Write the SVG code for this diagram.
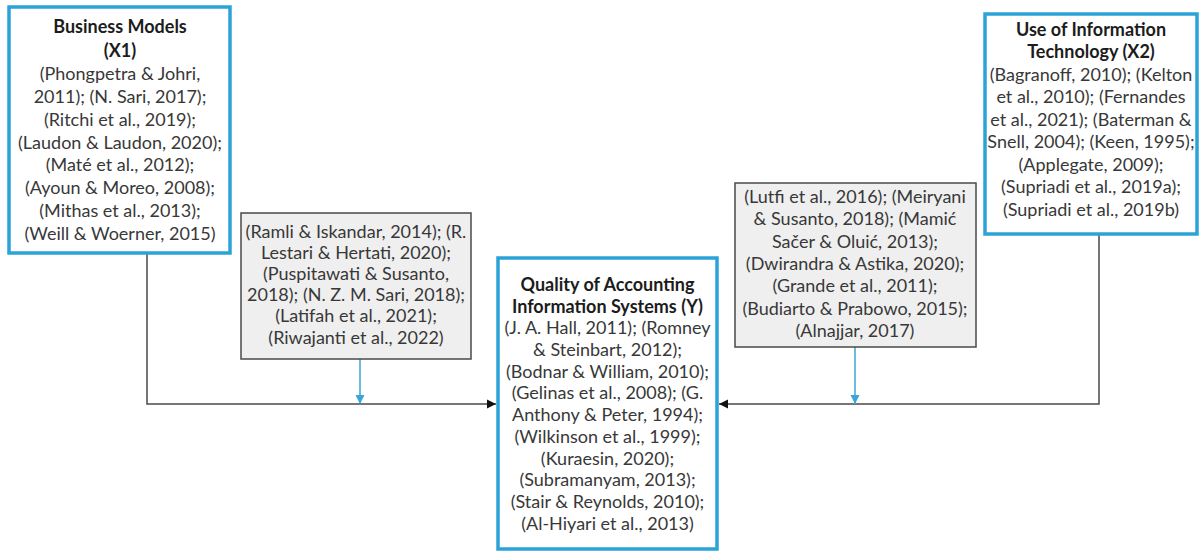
<svg xmlns="http://www.w3.org/2000/svg" width="1199" height="551" viewBox="0 0 1199 551">
<style>
.main{fill:#ffffff;stroke:#2ba3d6;stroke-width:3.5}
.ref{fill:#efefef;stroke:#4a4a4a;stroke-width:1.5}
text{font-family:Lato,"Open Sans","Liberation Sans",sans-serif;font-size:18px;fill:#383838;text-anchor:middle}
.t{font-weight:bold;fill:#1c1c1c}
.conn{fill:none;stroke:#4a4a4a;stroke-width:1.5}
.blue{fill:none;stroke:#39a6d6;stroke-width:1.5}
</style>
<defs>
<marker id="ah" markerWidth="10" markerHeight="10" refX="9" refY="5" orient="auto" markerUnits="userSpaceOnUse"><path d="M0,0.5 L9,5 L0,9.5 Z" fill="#111"/></marker>
<marker id="ab" markerWidth="10" markerHeight="10" refX="9" refY="5" orient="auto" markerUnits="userSpaceOnUse"><path d="M0,0.5 L9,5 L0,9.5 Z" fill="#39a6d6"/></marker>
</defs>
<g id="connectors">
<path class="conn" d="M147,253 V404 H496" marker-end="url(#ah)"/>
<path class="conn" d="M1099,234 V404 H719" marker-end="url(#ah)"/>
<path class="blue" d="M360,359 V404" marker-end="url(#ab)"/>
<path class="blue" d="M855,347 V404" marker-end="url(#ab)"/>
</g>
<g id="x1">
<rect class="main" x="9" y="7" width="221" height="246"/>
<text class="t" x="120" y="33">Business Models</text>
<text class="t" x="120" y="57">(X1)</text>
<text x="120" y="80">(Phongpetra &amp; Johri,</text>
<text x="120" y="103">2011); (N. Sari, 2017);</text>
<text x="120" y="126">(Ritchi et al., 2019);</text>
<text x="120" y="149">(Laudon &amp; Laudon, 2020);</text>
<text x="120" y="171">(Maté et al., 2012);</text>
<text x="120" y="194">(Ayoun &amp; Moreo, 2008);</text>
<text x="120" y="217">(Mithas et al., 2013);</text>
<text x="120" y="240">(Weill &amp; Woerner, 2015)</text>
</g>
<g id="ref1">
<rect class="ref" x="241" y="213" width="230" height="146"/>
<text x="356" y="238">(Ramli &amp; Iskandar, 2014); (R.</text>
<text x="356" y="259">Lestari &amp; Hertati, 2020);</text>
<text x="356" y="280">(Puspitawati &amp; Susanto,</text>
<text x="356" y="301">2018); (N. Z. M. Sari, 2018);</text>
<text x="356" y="322">(Latifah et al., 2021);</text>
<text x="356" y="344">(Riwajanti et al., 2022)</text>
</g>
<g id="y">
<rect class="main" x="498" y="258" width="219" height="291"/>
<text class="t" x="607.5" y="291">Quality of Accounting</text>
<text class="t" x="607.5" y="313">Information Systems (Y)</text>
<text x="607.5" y="334">(J. A. Hall, 2011); (Romney</text>
<text x="607.5" y="356">&amp; Steinbart, 2012);</text>
<text x="607.5" y="378">(Bodnar &amp; William, 2010);</text>
<text x="607.5" y="399">(Gelinas et al., 2008); (G.</text>
<text x="607.5" y="421">Anthony &amp; Peter, 1994);</text>
<text x="607.5" y="443">(Wilkinson et al., 1999);</text>
<text x="607.5" y="465">(Kuraesin, 2020);</text>
<text x="607.5" y="486">(Subramanyam, 2013);</text>
<text x="607.5" y="508">(Stair &amp; Reynolds, 2010);</text>
<text x="607.5" y="530">(Al-Hiyari et al., 2013)</text>
</g>
<g id="ref2">
<rect class="ref" x="735" y="183" width="241" height="164"/>
<text x="855" y="203">(Lutfi et al., 2016); (Meiryani</text>
<text x="855" y="225">&amp; Susanto, 2018); (Mamić</text>
<text x="855" y="248">Sačer &amp; Oluić, 2013);</text>
<text x="855" y="270">(Dwirandra &amp; Astika, 2020);</text>
<text x="855" y="292">(Grande et al., 2011);</text>
<text x="855" y="315">(Budiarto &amp; Prabowo, 2015);</text>
<text x="855" y="337">(Alnajjar, 2017)</text>
</g>
<g id="x2">
<rect class="main" x="985" y="14" width="212" height="220"/>
<text class="t" x="1091" y="36">Use of Information</text>
<text class="t" x="1091" y="58">Technology (X2)</text>
<text x="1091" y="81">(Bagranoff, 2010); (Kelton</text>
<text x="1091" y="103">et al., 2010); (Fernandes</text>
<text x="1091" y="126">et al., 2021); (Baterman &amp;</text>
<text x="1091" y="148">Snell, 2004); (Keen, 1995);</text>
<text x="1091" y="171">(Applegate, 2009);</text>
<text x="1091" y="193">(Supriadi et al., 2019a);</text>
<text x="1091" y="216">(Supriadi et al., 2019b)</text>
</g>
</svg>
